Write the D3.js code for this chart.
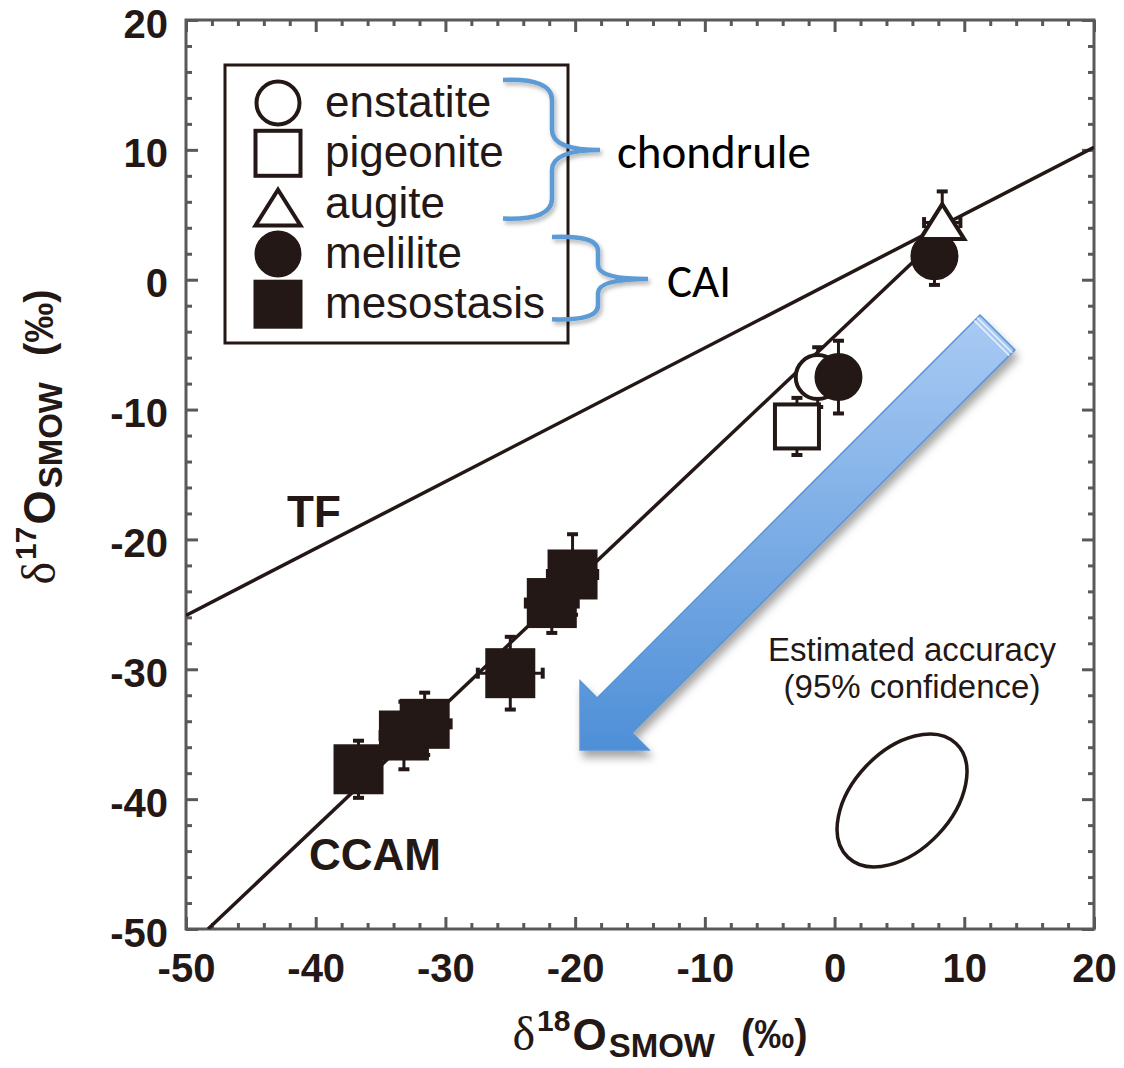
<!DOCTYPE html>
<html>
<head>
<meta charset="utf-8">
<title>Oxygen isotopes</title>
<style>
  body { margin: 0; background: #fff; }
</style>
</head>
<body>
<script src="https://d3js.org/d3.v7.min.js"></script>
<script>
// ---- data (per mil) ----
const majorTicks = [-50, -40, -30, -20, -10, 0, 10, 20];

// chondrule minerals
const enstatite = [{ x: -1.3, y: -7.5, ex: 1.5, ey: 2.3 }];
const pigeonite = [{ x: -2.9, y: -11.3, ex: 1.5, ey: 2.2 }];
const augite = [{ x: 8.3, y: 4.4, ex: 1.4, ey: 2.4 }];
// CAI minerals
const melilite = [
  { x: 0.3, y: -7.5, ex: 1.5, ey: 2.8 },
  { x: 7.7, y: 1.8, ex: 1.5, ey: 2.2 }
];
const mesostasis = [
  { x: -21.8, y: -24.9, ex: 2.0, ey: 2.3 },
  { x: -20.2, y: -22.7, ex: 1.9, ey: 3.1 },
  { x: -25.0, y: -30.3, ex: 2.5, ey: 2.8 },
  { x: -33.2, y: -35.1, ex: 1.8, ey: 2.6 },
  { x: -31.6, y: -34.2, ex: 2.0, ey: 2.4 },
  { x: -36.7, y: -37.7, ex: 1.5, ey: 2.2 }
];

// reference lines: terrestrial fractionation and CCAM
const tfLine = [[-50, -25.85], [20, 10.2]];
const ccamLine = [[-48.3, -50], [7.5, 2.74]];

// 95% confidence ellipse (centre, semi axes in per mil, tilt in degrees)
const accuracyEllipse = { x: 5.2, y: -40.1, a: 6.05, b: 3.82, angle: -46.5 };
// blue trend arrow (tail centre -> tip)
const trendArrow = { from: [12.56, -4.06], to: [-19.62, -36.21] };

const legendItems = ["enstatite", "pigeonite", "augite", "melilite", "mesostasis"];
const legendShapes = ["openCircle", "openSquare", "openTriangle", "filledCircle", "filledSquare"];

// ---- drawing ----
const W = 1124, H = 1068;
const ink = "#231815";
const axisGrey = "#595959";

const svg = d3.select("body").append("svg")
  .attr("width", W).attr("height", H)
  .style("font-family", "'Liberation Sans', Arial, sans-serif");

const defs = svg.append("defs");

const x = d3.scaleLinear().domain([-50, 20]).range([186, 1094]);
const y = d3.scaleLinear().domain([-50, 20]).range([929, 20]);

defs.append("clipPath").attr("id", "plotClip")
  .append("rect")
  .attr("x", x(-50)).attr("y", y(20))
  .attr("width", x(20) - x(-50)).attr("height", y(-50) - y(20));

// axes with inward ticks on all four sides
const minorTicks = d3.range(-50, 21, 2).filter(v => majorTicks.indexOf(v) < 0);
const fmt = d => String(d);

function tickAxis(axis, tr, values, size, labels) {
  const g = svg.append("g").attr("transform", tr)
    .call(axis.tickValues(values).tickSize(size)
      .tickFormat(labels ? fmt : ""));
  g.select(".domain").remove();
  g.selectAll("line").attr("stroke", axisGrey).attr("stroke-width", 3);
  return g;
}
const bottomY = y(-50), topY = y(20), leftX = x(-50), rightX = x(20);

const xb = tickAxis(d3.axisBottom(x).tickPadding(25), `translate(0,${bottomY})`, majorTicks, -12, true);
tickAxis(d3.axisBottom(x), `translate(0,${bottomY})`, minorTicks, -6, false);
tickAxis(d3.axisTop(x), `translate(0,${topY})`, majorTicks, -12, false);
tickAxis(d3.axisTop(x), `translate(0,${topY})`, minorTicks, -6, false);
const yl = tickAxis(d3.axisLeft(y).tickPadding(18), `translate(${leftX},0)`, majorTicks, -12, true);
tickAxis(d3.axisLeft(y), `translate(${leftX},0)`, minorTicks, -6, false);
tickAxis(d3.axisRight(y), `translate(${rightX},0)`, majorTicks, -12, false);
tickAxis(d3.axisRight(y), `translate(${rightX},0)`, minorTicks, -6, false);

[xb, yl].forEach(g => g.selectAll("text")
  .attr("font-family", "'Liberation Sans', Arial, sans-serif")
  .attr("font-size", 40).attr("font-weight", "bold").attr("fill", ink));
// y labels sit a little below their ticks, as in the original
yl.selectAll("text").attr("dy", "17px");

svg.append("rect")
  .attr("x", leftX).attr("y", topY)
  .attr("width", rightX - leftX).attr("height", bottomY - topY)
  .attr("fill", "none").attr("stroke", axisGrey).attr("stroke-width", 3);

// reference lines
const line = d3.line().x(d => x(d[0])).y(d => y(d[1]));
const plot = svg.append("g").attr("clip-path", "url(#plotClip)");
[tfLine, ccamLine].forEach(l => {
  plot.append("path").attr("d", line(l))
    .attr("fill", "none").attr("stroke", ink).attr("stroke-width", 3.5);
});

svg.append("text").attr("x", 287).attr("y", 527)
  .attr("font-size", 44).attr("font-weight", "bold").attr("fill", ink).text("TF");
svg.append("text").attr("x", 309).attr("y", 870)
  .attr("font-size", 44).attr("font-weight", "bold").attr("fill", ink).text("CCAM");

// symbols
function drawShape(g, shape, cx, cy, s) {
  const filled = shape.indexOf("filled") === 0;
  const fill = filled ? ink : "#fff";
  let el;
  if (shape.endsWith("Circle")) {
    el = g.append("circle").attr("cx", cx).attr("cy", cy).attr("r", s / 2 - 1);
  } else if (shape.endsWith("Square")) {
    el = g.append("rect").attr("x", cx - s / 2).attr("y", cy - s / 2)
      .attr("width", s).attr("height", s);
  } else {
    const w = s, h = s * 0.75;
    el = g.append("path")
      .attr("d", `M${cx},${cy - h / 2 - 2}L${cx + w / 2},${cy + h / 2}L${cx - w / 2},${cy + h / 2}Z`);
  }
  el.attr("fill", fill).attr("stroke", ink).attr("stroke-width", 4)
    .attr("stroke-linejoin", "miter");
}

function errorBars(g, data) {
  const cap = 5.5;
  data.forEach(d => {
    const cx = x(d.x), cy = y(d.y);
    const y0 = y(d.y - d.ey), y1 = y(d.y + d.ey);
    const x0 = x(d.x - d.ex), x1 = x(d.x + d.ex);
    const segs = [
      [cx, y0, cx, y1], [x0, cy, x1, cy],
      [cx - cap, y0, cx + cap, y0], [cx - cap, y1, cx + cap, y1],
      [x0, cy - cap, x0, cy + cap], [x1, cy - cap, x1, cy + cap]
    ];
    segs.forEach((s, i) => g.append("line")
      .attr("x1", s[0]).attr("y1", s[1]).attr("x2", s[2]).attr("y2", s[3])
      .attr("stroke", ink).attr("stroke-width", i < 2 ? 3 : 4));
  });
}

const pts = svg.append("g");
const allSeries = [
  [enstatite, "openCircle", 46],
  [melilite, "filledCircle", 46],
  [pigeonite, "openSquare", 44],
  [mesostasis, "filledSquare", 46],
  [augite, "openTriangle", 44]
];
allSeries.forEach(s => errorBars(pts, s[0]));
allSeries.forEach(s => s[0].forEach(d => drawShape(pts, s[1], x(d.x), y(d.y), s[2])));

// legend
const lg = svg.append("g");
lg.append("rect").attr("x", 225).attr("y", 65).attr("width", 343).attr("height", 278)
  .attr("fill", "#fff").attr("stroke", ink).attr("stroke-width", 3);
legendItems.forEach((name, i) => {
  const base = 117 + i * 50.3;
  drawShape(lg, legendShapes[i], 278, base - 14 + (i === 2 ? 5 : 0), 45);
  lg.append("text").attr("x", 325).attr("y", base)
    .attr("font-size", 44).attr("fill", ink).text(name);
});

// braces grouping the legend
const braceShadow = defs.append("filter").attr("id", "braceShadow")
  .attr("x", "-20%").attr("y", "-20%").attr("width", "150%").attr("height", "150%");
braceShadow.append("feDropShadow").attr("dx", 2).attr("dy", 3)
  .attr("stdDeviation", 2).attr("flood-color", "#000").attr("flood-opacity", 0.3);

function brace(xEnd, xSpine, xTip, yTop, yBot, yTip) {
  const r = Math.min(20, (yTip - yTop) / 3);
  return `M${xEnd},${yTop} Q${xSpine},${yTop - 2} ${xSpine},${yTop + r}` +
    ` L${xSpine},${yTip - r} Q${xSpine},${yTip} ${xTip},${yTip}` +
    ` Q${xSpine},${yTip} ${xSpine},${yTip + r}` +
    ` L${xSpine},${yBot - r} Q${xSpine},${yBot + 2} ${xEnd},${yBot}`;
}
const rowY = i => 117 + i * 50.3 - 14;
svg.append("path").attr("d", brace(503, 552, 600, rowY(0) - 23, rowY(2) + 15, 150))
  .attr("fill", "none").attr("stroke", "#5b9bd5").attr("stroke-width", 4.5)
  .attr("filter", "url(#braceShadow)");
svg.append("path").attr("d", brace(552, 598, 648, rowY(3) - 17, rowY(4) + 15, 279))
  .attr("fill", "none").attr("stroke", "#5b9bd5").attr("stroke-width", 4.5)
  .attr("filter", "url(#braceShadow)");

const calibri = "Carlito, 'Open Sans', 'Noto Sans', sans-serif";
svg.append("text").attr("x", 617).attr("y", 168).attr("font-family", calibri)
  .attr("font-size", 47).attr("fill", "#000").text("chondrule");
svg.append("text").attr("x", 667).attr("y", 297).attr("font-family", calibri)
  .attr("font-size", 47).attr("fill", "#000").text("CAI");

// blue arrow
const grad = defs.append("linearGradient").attr("id", "arrowGrad")
  .attr("gradientUnits", "userSpaceOnUse")
  .attr("x1", 0).attr("y1", y(trendArrow.from[1]) - 20)
  .attr("x2", 0).attr("y2", y(trendArrow.to[1]));
grad.append("stop").attr("offset", 0).attr("stop-color", "#aacbf4");
grad.append("stop").attr("offset", 1).attr("stop-color", "#4e8fd7");

const arrowShadow = defs.append("filter").attr("id", "arrowShadow")
  .attr("x", "-20%").attr("y", "-20%").attr("width", "150%").attr("height", "150%");
arrowShadow.append("feDropShadow").attr("dx", 3).attr("dy", 7)
  .attr("stdDeviation", 4).attr("flood-color", "#000").attr("flood-opacity", 0.35);

(function drawArrow() {
  const t = [x(trendArrow.from[0]), y(trendArrow.from[1])];
  const p = [x(trendArrow.to[0]), y(trendArrow.to[1])];
  const len = Math.hypot(p[0] - t[0], p[1] - t[1]);
  const u = [(p[0] - t[0]) / len, (p[1] - t[1]) / len];
  const n = [-u[1], u[0]];
  const hw = 24.7, headW = 48.8, headL = 48.8;
  const b = [p[0] - u[0] * headL, p[1] - u[1] * headL];
  const pt = (o, a, k) => [o[0] + n[0] * a + u[0] * k, o[1] + n[1] * a + u[1] * k];
  const poly = [pt(t, hw, 0), pt(b, hw, 0), pt(b, headW, 0), p,
    pt(b, -headW, 0), pt(b, -hw, 0), pt(t, -hw, 0)];
  const ag = svg.append("g");
  ag.append("path").attr("d", "M" + poly.join("L") + "Z")
    .attr("fill", "url(#arrowGrad)").attr("stroke", "#5a93d4").attr("stroke-width", 1.5)
    .attr("filter", "url(#arrowShadow)");
  [4, 8].forEach(k => {
    const a1 = pt(t, hw, k), a2 = pt(t, -hw, k);
    ag.append("line").attr("x1", a1[0]).attr("y1", a1[1]).attr("x2", a2[0]).attr("y2", a2[1])
      .attr("stroke", "#e8f1fb").attr("stroke-width", 1.6);
  });
})();

// accuracy ellipse and note
const e = accuracyEllipse;
svg.append("ellipse")
  .attr("cx", 0).attr("cy", 0)
  .attr("rx", x(e.a) - x(0)).attr("ry", y(0) - y(e.b))
  .attr("transform", `translate(${x(e.x)},${y(e.y)}) rotate(${e.angle})`)
  .attr("fill", "none").attr("stroke", ink).attr("stroke-width", 3.5);

svg.append("text").attr("text-anchor", "middle").attr("x", 912).attr("y", 661)
  .attr("font-size", 33).attr("fill", ink).text("Estimated accuracy");
svg.append("text").attr("text-anchor", "middle").attr("x", 912).attr("y", 698)
  .attr("font-size", 33).attr("fill", ink).text("(95% confidence)");

// axis titles
function axisTitle(g, iso) {
  const t = g.append("text").attr("text-anchor", "middle").attr("fill", ink)
    .attr("font-weight", "bold");
  t.append("tspan").attr("font-family", "'Liberation Serif', 'Times New Roman', serif")
    .attr("font-weight", "normal").attr("font-size", 48).text("\u03b4");
  t.append("tspan").attr("font-size", 30).attr("dy", -19).attr("dx", 2).text(iso);
  t.append("tspan").attr("font-size", 44).attr("dy", 19).attr("dx", 2).text("O");
  t.append("tspan").attr("font-size", 33).attr("dy", 7).attr("dx", 2).text("SMOW");
  t.append("tspan").attr("font-size", 40).attr("dy", -9).attr("dx", 26).text("(\u2030)");
}
axisTitle(svg.append("g").attr("transform", "translate(660,1050)"), "18");
axisTitle(svg.append("g").attr("transform", "translate(55,437) rotate(-90)"), "17");
</script>
</body>
</html>
